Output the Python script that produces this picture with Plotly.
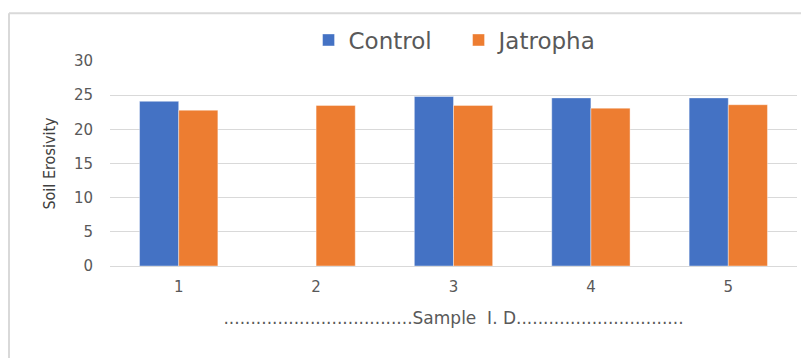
import plotly.graph_objects as go

categories = ["1", "2", "3", "4", "5"]
control = [24.1, None, 24.8, 24.6, 24.6]
jatropha = [22.8, 23.5, 23.5, 23.1, 23.6]
y_ticks = [0, 5, 10, 15, 20, 25, 30]
x_title = "." * 35 + "Sample  I. D" + "." * 31

fig = go.Figure()
fig.add_trace(go.Bar(x=categories, y=control, name="Control",
                     marker=dict(color="#4472C4", line=dict(color="rgba(255,255,255,0.4)", width=1))))
fig.add_trace(go.Bar(x=categories, y=jatropha, name="Jatropha",
                     marker=dict(color="#ED7D31", line=dict(color="rgba(255,255,255,0.4)", width=1))))

tick_font = dict(family="DejaVu Sans, sans-serif", size=15, color="#595959")

fig.update_layout(
    width=809, height=358,
    margin=dict(l=102, r=20, t=52, b=100),
    paper_bgcolor="white", plot_bgcolor="white",
    barmode="group", bargap=0.43, bargroupgap=0,
    showlegend=True,
    legend=dict(orientation="h", x=0.289, xanchor="left", y=1.097, yanchor="middle",
                font=dict(family="DejaVu Sans, sans-serif", size=23, color="#595959"),
                itemwidth=30, entrywidth=105, entrywidthmode="pixels", traceorder="normal"),
    xaxis=dict(type="category", showgrid=False, showline=False, ticks="", automargin=False,
               tickfont=tick_font, ticklabelstandoff=10,
               title=dict(text=x_title,
                          font=dict(family="DejaVu Sans, sans-serif", size=17, color="#595959"),
                          standoff=17)),
    yaxis=dict(range=[0, 30], tickvals=y_ticks, showgrid=True, gridcolor="#d9d9d9", gridwidth=1,
               zeroline=True, zerolinecolor="#d9d9d9", zerolinewidth=1, automargin=False,
               showline=False, ticks="", tickfont=tick_font, ticklabelstandoff=16,
               title=dict(text="Soil Erosivity",
                          font=dict(family="Liberation Sans Narrow, DejaVu Sans Condensed, sans-serif", size=16, color="#404040"),
                          standoff=14)),
    shapes=[
        dict(type="line", xref="paper", yref="paper", x0=-0.1470, x1=-0.1470, y0=1.233, y1=-0.6,
             line=dict(color="#d9d9d9", width=2)),
        dict(type="line", xref="paper", yref="paper", x0=-0.1470, x1=1.1, y0=1.233, y1=1.233,
             line=dict(color="#d9d9d9", width=2)),
    ],
)

fig.write_html("out.html")
